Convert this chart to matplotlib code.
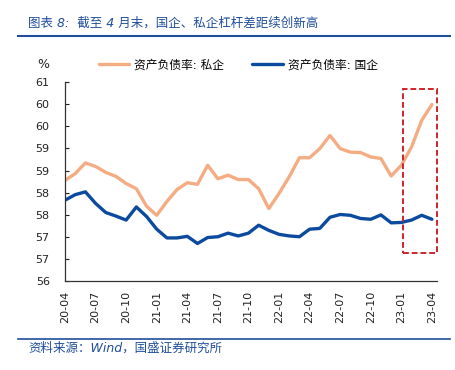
import numpy as np
import matplotlib
matplotlib.use('Agg')
from matplotlib import pyplot as plt
from matplotlib.patches import Rectangle
from matplotlib.lines import Line2D
from matplotlib.ticker import FuncFormatter

plt.rcParams['font.family'] = ['DejaVu Sans', 'Noto Sans CJK SC']

# monthly, 2020-04 .. 2023-04
private = [58.53, 58.70, 58.97, 58.88, 58.73, 58.63, 58.45, 58.32, 57.88, 57.65,
           58.00, 58.30, 58.47, 58.43, 58.91, 58.57, 58.66, 58.55, 58.55, 58.32,
           57.82, 58.20, 58.62, 59.10, 59.10, 59.33, 59.66, 59.33, 59.24, 59.23,
           59.12, 59.08, 58.64, 58.91, 59.37, 60.04, 60.44]
soe = [58.03, 58.17, 58.24, 57.95, 57.72, 57.63, 57.53, 57.86, 57.62, 57.30,
       57.08, 57.08, 57.12, 56.94, 57.09, 57.11, 57.20, 57.13, 57.20, 57.40,
       57.27, 57.17, 57.13, 57.11, 57.30, 57.32, 57.60, 57.67, 57.65, 57.57,
       57.55, 57.66, 57.46, 57.47, 57.53, 57.65, 57.55]
tick_labels = ['20-04', '20-07', '20-10', '21-01', '21-04', '21-07', '21-10',
               '22-01', '22-04', '22-07', '22-10', '23-01', '23-04']
names = ['资产负债率: 私企', '资产负债率: 国企']

c_priv = '#F4AC82'
c_soe = '#0B4A9E'
c_title = '#1F4E9A'

fig = plt.figure(figsize=(4.56, 3.70), dpi=100)
ax = fig.add_axes([65/456, 1-280.8/370, (437-65)/456, (280.8-82.3)/370])

x = np.arange(len(private))
ax.plot(x, private, color=c_priv, lw=2.4, solid_capstyle='round',
        solid_joinstyle='round', label=names[0])
ax.plot(x, soe, color=c_soe, lw=2.4, solid_capstyle='round',
        solid_joinstyle='round', label=names[1])

# highlight box over the last months
box = Rectangle((33.14, 56.71), 3.34, 4.11, fill=False, ec='#D0242B', lw=1.4,
                ls=(0, (3, 1.5)), clip_on=False, zorder=5)
ax.add_patch(box)

ax.set_xlim(0, 36.5)
ax.set_ylim(56, 61)
ax.set_yticks(np.linspace(56, 61, 10))
ax.yaxis.set_major_formatter(FuncFormatter(lambda v, p: '%d' % round(v)))
ax.set_xticks(np.arange(0, len(private), 3))
ax.set_xticklabels(tick_labels, rotation=90)
ax.tick_params(axis='y', direction='in', length=3, width=0.8, pad=11,
               labelsize=8, colors='#222222')
ax.tick_params(axis='x', length=0, pad=7, labelsize=8, colors='#222222')
for s in ['top', 'right']:
    ax.spines[s].set_visible(False)
for s in ['left', 'bottom']:
    ax.spines[s].set_color('#333333')
    ax.spines[s].set_linewidth(0.9)

ax.legend(loc='center left', bbox_to_anchor=(88/456, 1-65/370),
          bbox_transform=fig.transFigure, ncol=2, frameon=False, fontsize=8.5,
          handlelength=2.6, handletextpad=0.4, columnspacing=2.4)

fig.text(43/456, 1-65/370, '%', ha='center', va='center', fontsize=9, color='#222222')

# header and footer
fig.text(28/456, 1-23/370, '图表 8:  截至 4 月末，国企、私企杠杆差距续创新高',
         ha='left', va='center', fontsize=9, color=c_title, style='italic')
fig.add_artist(Line2D([18/456, 450/456], [1-36/370, 1-36/370], color=c_title, lw=1.5))
fig.add_artist(Line2D([18/456, 450/456], [1-339/370, 1-339/370], color=c_title, lw=1.2))
fig.text(28/456, 1-348/370, '资料来源：Wind，国盛证券研究所',
         ha='left', va='center', fontsize=9, color=c_title, style='italic')

fig.savefig('out.png', dpi=100)
